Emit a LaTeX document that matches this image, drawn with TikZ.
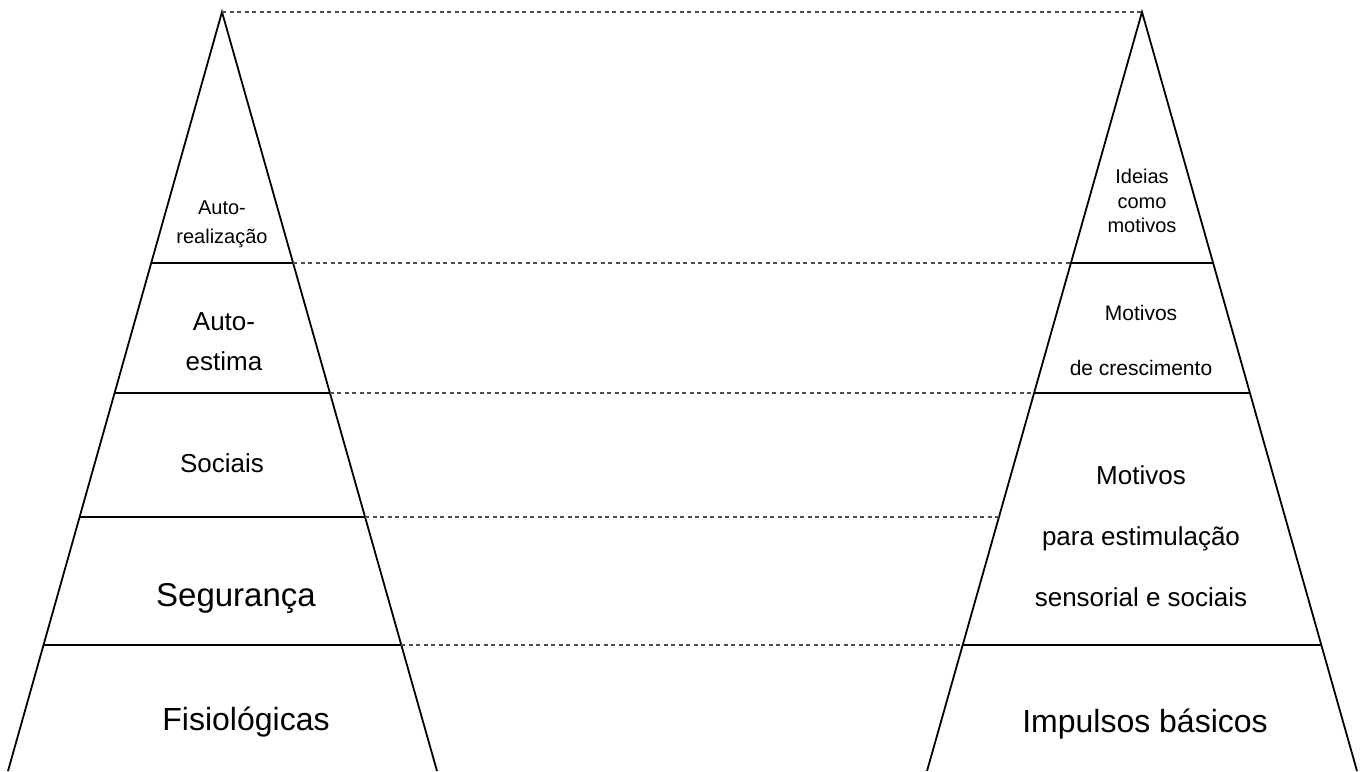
\documentclass[tikz,border=0pt]{standalone}
\usepackage{fontspec}
\setmainfont{Liberation Sans}
\usetikzlibrary{calc}

\tikzset{
  edge/.style={line width=1.8pt, black},
  guide/.style={line width=1.3pt, black!70, dash pattern=on 4pt off 3.5pt},
  lbl/.style={align=center, inner sep=0pt}
}
\newcommand{\fsz}[2]{\fontsize{#1}{#2}\selectfont}

\begin{document}
\begin{tikzpicture}[x=1pt,y=-1pt]
	\useasboundingbox (0,0) rectangle (1367,771);
	% the two pyramids
	\coordinate (la) at (222,12);
	\coordinate (lbl) at (8,771);
	\coordinate (lbr) at (437,771);
	\coordinate (ra) at (1142,12);
	\coordinate (rbl) at (927,771);
	\coordinate (rbr) at (1357,771);
	\draw[edge] (lbl) -- (la) -- (lbr);
	\draw[edge] (rbl) -- (ra) -- (rbr);

	% points where the levels meet the sides
	\foreach \n/\y in {a/263,b/393,c/517,d/645}{
		\coordinate (l\n1) at ($(la)!{(\y-12)/759}!(lbl)$);
		\coordinate (l\n2) at ($(la)!{(\y-12)/759}!(lbr)$);
		\coordinate (r\n1) at ($(ra)!{(\y-12)/759}!(rbl)$);
		\coordinate (r\n2) at ($(ra)!{(\y-12)/759}!(rbr)$);
	}
	\foreach \n in {a,b,c,d}
		\draw[edge] (l\n1) -- (l\n2);
	\foreach \n in {a,b,d}
		\draw[edge] (r\n1) -- (r\n2);

	% dashed links between the levels
	\draw[guide] (la) -- (ra);
	\foreach \n in {a,b,c,d}
		\draw[guide] (l\n2) -- (r\n1);

	% left labels
	\node[lbl, font=\fsz{20}{29}] (autorealizacao) at (222,224) {Auto-\\realização};
	\node[lbl, font=\fsz{26}{40}] (autoestima) at (224,342) {Auto-\\estima};
	\node[lbl, font=\fsz{26}{30}] (sociais) at (222,463) {Sociais};
	\node[lbl, font=\fsz{33}{38}] (seguranca) at (236,598) {Segurança};
	\node[lbl, font=\fsz{32}{36}] (fisiologicas) at (246,722) {Fisiológicas};

	% right labels
	\node[lbl, font=\fsz{20}{24.5}] (ideias) at (1142,201) {Ideias\\como\\motivos};
	\node[lbl, font=\fsz{21}{55}] (crescimento) at (1141,340) {Motivos\\de crescimento};
	\node[lbl, font=\fsz{26}{61}] (estimulacao) at (1141,536) {Motivos\\para estimulação\\sensorial e sociais};
	\node[lbl, font=\fsz{32}{36}] (impulsos) at (1145,724) {Impulsos básicos};
\end{tikzpicture}
\end{document}
